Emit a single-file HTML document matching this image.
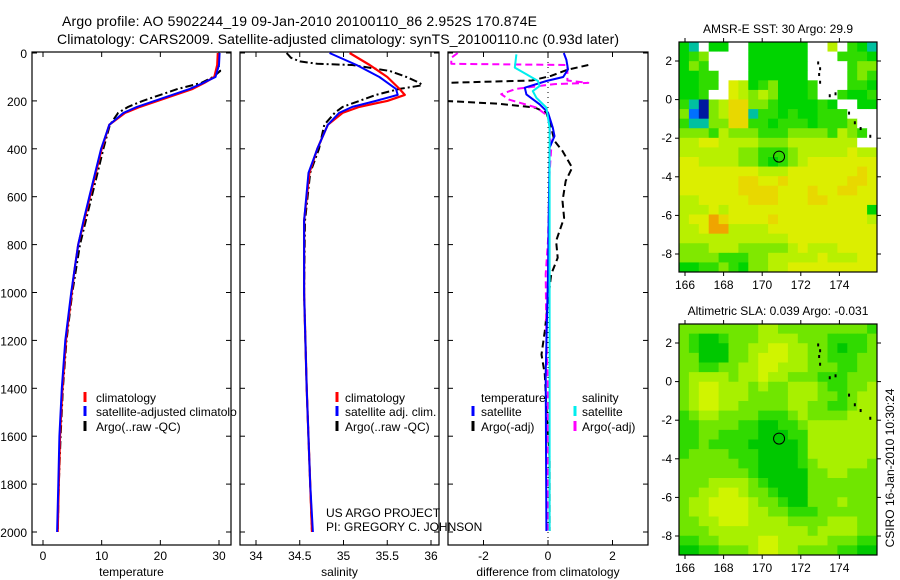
<!DOCTYPE html>
<html><head><meta charset="utf-8"><style>
html,body{margin:0;padding:0;background:#fff;}
svg{display:block;font-family:"Liberation Sans",sans-serif;}
</style></head><body>
<svg id="chart" width="900" height="580" viewBox="0 0 900 580"></svg>
<script>
// ---------- data ----------
const depthTicks=[0,200,400,600,800,1000,1200,1400,1600,1800,2000];
const tempTicks=[0,10,20,30];
const salTicks=[34,34.5,35,35.5,36];
const diffTicks=[-2,0,2];
const lonTicks=[166,168,170,172,174];
const latTicks=[2,0,-2,-4,-6,-8];

const climTdepth=[0,50,100,125,150,175,200,225,250,300,400,500,600,700,800,900,1000,1200,1400,1600,1800,2000];
const climT=[29.8,29.7,29.2,27.5,25.5,22.5,19.5,16.5,14,11.3,10,9,8,7,6,5.4,4.9,3.9,3.3,2.9,2.7,2.5];
const satT=[30.1,30.0,29.4,27.3,25,22,19,16,13.7,11.3,9.9,8.9,7.9,6.9,6,5.4,4.8,3.8,3.2,2.8,2.6,2.4];
const argoTdepth=[5,50,75,100,125,150,175,200,225,250,300,400,500,600,700,800,1000,1200,1400,1600,1800,2000];
const argoT=[30,29.9,30.2,29,27,23,20,17,14.5,12.8,11.4,10.3,9.3,8.3,7.3,6.3,5.0,4.0,3.4,3.0,2.7,2.5];

const salDepth=[0,50,100,150,175,200,225,250,300,400,500,700,1000,1400,1800,2000];
const climS=[35.07,35.3,35.5,35.64,35.7,35.5,35.18,34.99,34.82,34.7,34.61,34.55,34.55,34.58,34.62,34.64];
const satS=[34.84,35.15,35.41,35.6,35.62,35.37,35.1,34.95,34.82,34.7,34.6,34.55,34.55,34.58,34.62,34.65];
const argoSdepth=[0,20,35,45,50,75,100,125,135,150,175,200,225,250,300,400,500,700,1000,1400,1800,2000];
const argoS=[34.35,34.4,34.5,34.7,35.1,35.53,35.72,35.87,35.9,35.64,35.37,35.18,34.99,34.9,34.78,34.72,34.62,34.56,34.55,34.58,34.62,34.64];

const dTsatDepth=[0,29,68,100,117,145,173,214,249,312,347,395,924,1342,1996];
const dTsat=[0.49,0.57,0.62,0.47,-0.05,-0.72,-0.67,-0.26,0,0.15,0.2,0.05,0,-0.07,-0.05];
const dTargoDepth=[50,70,95,115,125,200,212,228,250,312,367,409,479,534,618,688,785,855,924,1036,1161,1259,1342,1481,1690,1871,1996];
const dTargo=[1.25,0.6,0.1,-0.5,-3.2,-3.2,-1.5,-0.4,-0.05,0.1,0.2,0.45,0.75,0.55,0.45,0.5,0.25,0.3,0.1,0,-0.1,-0.2,-0.1,-0.05,0.05,0.05,0.05];
const dSsatDepth=[6,61,89,117,138,159,187,228,312,1000,1996];
const dSsat=[-0.98,-1.03,-0.67,-0.31,-0.26,-0.47,-0.36,-0.05,0.05,0.05,0.05];
const dSargoDepth=[0,20,45,50,80,115,125,130,150,172,195,228,263,312,400,500,785,924,1200,1400,2000];
const dSargo=[-2.8,-3,-3,0.6,0.6,0.6,1.25,0.2,-1.0,-1.45,-1.2,-0.36,0,0.05,0.1,0.05,0,-0.07,-0.05,0,0];

const sstGrid=[
"19011001111110040219","12300001111110002221","13200001111110000233","11220001111110000232",
"11220541231112000221","11200543431112002112","29834663321111210011","3b834669221211222000",
"29933662212221222300","33324333222333324320","44554444333444444400","44444433222344444544",
"55444433212345555555","55555555444555555565","55555566556555555665","55555566665556556655",
"44555556665556655555","44454555555555555551","45576555565555555554","44577444455555555555",
"44444444444555555555","33344433333454445555","33332223344444544455","11223213344555555555"];
const slaGrid=[
"33333333443333333332","32112333444433322223","32111334455443321223","33111334555443322233",
"33223344554443332233","34444344544333222333","34554443433444322334","34554443333444332344",
"34554433333443322344","23443333222343333444","22333322112234444444","22332222111224444444",
"22322221111124444444","23333222111124444444","33333322111123444443","33333332111113344333",
"33344443211113333333","33445543321113333333","34455554332113334333","34455554433222333333",
"33445554444333344433","33344444444443444433","22334444554444433322","11223334554433332211"];
const floatLon=[170.874];
const floatLat=[-2.952];
const islandLon=[172.9,173.0,172.95,173.0,173.5,173.8,174.5,174.8,175.1,175.6];
const islandLat=[1.9,1.6,1.3,0.9,0.2,0.3,-0.7,-1.2,-1.5,-1.9];

// ---------- helpers ----------
const NS="http://www.w3.org/2000/svg";
const svg=document.getElementById('chart');
function mk(tag,attrs,parent){const e=document.createElementNS(NS,tag);for(const k in attrs)e.setAttribute(k,attrs[k]);(parent||svg).appendChild(e);return e;}
function txt(s,x,y,size,anchor,parent){const t=mk('text',{x:x,y:y,'font-size':size,'text-anchor':anchor||'middle',fill:'#000'},parent);t.textContent=s;return t;}

const Y0=53, YS=0.2395, FB=545, FT=52;
const yD=d=>Y0+d*YS;
const panels=[
 {x0:32,x1:231,fx:v=>43+v*5.867,ticks:tempTicks,label:'temperature',name:'temperature-panel',lbl:true},
 {x0:240,x1:439,fx:v=>256+(v-34)*87.5,ticks:salTicks,label:'salinity',name:'salinity-panel'},
 {x0:448,x1:648,fx:v=>548+v*32.25,ticks:diffTicks,label:'difference from climatology',name:'difference-panel'}
];

// titles
let t=txt('Argo profile: AO 5902244_19 09-Jan-2010 20100110_86 2.952S 170.874E',62,26,14,'start');
t.setAttribute('textLength','475');


t=txt('Climatology: CARS2009. Satellite-adjusted climatology: synTS_20100110.nc (0.93d later)',57,44,14,'start');
t.setAttribute('textLength','562');



panels.forEach((p,i)=>{
  const g=mk('g',{});
  
  
  const cp=mk('clipPath',{id:'clip'+i},g);
  mk('rect',{x:p.x0,y:FT,width:p.x1-p.x0,height:FB-FT},cp);
  p.g=g; p.clip='url(#clip'+i+')';
  const fr=mk('rect',{x:p.x0,y:FT,width:p.x1-p.x0,height:FB-FT,fill:'none',stroke:'#000','stroke-width':1.2},g);
  
  
  depthTicks.forEach(d=>{
    mk('line',{x1:p.x0,x2:p.x0+5,y1:yD(d),y2:yD(d),stroke:'#000'},g);
    mk('line',{x1:p.x1,x2:p.x1-5,y1:yD(d),y2:yD(d),stroke:'#000'},g);
    if(i===0){const l=txt(String(d),27,yD(d)+5,12,'end',g);
      
      }
  });
  p.ticks.forEach(v=>{
    const x=p.fx(v);
    mk('line',{x1:x,x2:x,y1:FB,y2:FB-5,stroke:'#000'},g);
    mk('line',{x1:x,x2:x,y1:FT,y2:FT+5,stroke:'#000'},g);
    const l=txt(String(v),x,560,12,'middle',g);
    
    
  });
  const xl=txt(p.label,(p.x0+p.x1)/2,576,12,'middle',g);
  
  
});

function line(p,ds,vs,color,dash,w,name){
  const pts=ds.map((d,k)=>p.fx(vs[k]).toFixed(1)+','+yD(d).toFixed(1)).join(' ');
  const a={points:pts,fill:'none',stroke:color,'stroke-width':w||2,'clip-path':p.clip,'stroke-linejoin':'round'};
  if(dash)a['stroke-dasharray']=dash;
  const e=mk('polyline',a,p.g);
  
  
}
const DD='8,3,2,3';
line(panels[0],argoTdepth,argoT,'#000',DD,2,'argo-temperature-line');
line(panels[0],climTdepth,climT,'#f00',null,2.2,'climatology-temperature-line');
line(panels[0],climTdepth,satT,'#00f',null,2,'satellite-temperature-line');
line(panels[1],argoSdepth,argoS,'#000',DD,2,'argo-salinity-line');
line(panels[1],salDepth,climS,'#f00',null,2.2,'climatology-salinity-line');
line(panels[1],salDepth,satS,'#00f',null,2,'satellite-salinity-line');
const zl=mk('line',{x1:548,x2:548,y1:FT,y2:FB,stroke:'#000','stroke-dasharray':'1,4'},panels[2].g);


line(panels[2],dTargoDepth,dTargo,'#000','7,4',2,'argo-temperature-diff-line');
line(panels[2],dSargoDepth,dSargo,'#f0f','7,4',2,'argo-salinity-diff-line');
line(panels[2],dTsatDepth,dTsat,'#00f',null,2,'satellite-temperature-diff-line');
line(panels[2],dSsatDepth,dSsat,'#0ee',null,2,'satellite-salinity-diff-line');

// legends
function legItem(x,y,color,label,g,tx){
  const m=mk('line',{x1:x,x2:x,y1:y-10,y2:y,stroke:color,'stroke-width':3},g);
  
  
  const l=txt(label,tx,y,12,'start',g);
  
  
}
const lg1=mk('g',{'clip-path':'url(#leg1)'});


const lc=mk('clipPath',{id:'leg1'});mk('rect',{x:0,y:0,width:237,height:580},lc);
legItem(85,402,'#f00','climatology',lg1,96);
legItem(85,416,'#00f','satellite-adjusted climatology',lg1,96);
legItem(85,431,'#000','Argo(..raw -QC)',lg1,96);
const lg2=mk('g',{});


legItem(337,402,'#f00','climatology',lg2,345);
legItem(337,416,'#00f','satellite adj. clim.',lg2,345);
legItem(337,431,'#000','Argo(..raw -QC)',lg2,345);
const lg3=mk('g',{});


t=txt('temperature',481,402,12,'start',lg3);


t=txt('salinity',582,402,12,'start',lg3);


legItem(473,416,'#00f','satellite',lg3,481);
legItem(473,431,'#000','Argo(-adj)',lg3,481);
legItem(575,416,'#0ee','satellite',lg3,582);
legItem(575,431,'#f0f','Argo(-adj)',lg3,582);
t=txt('US ARGO PROJECT',326,517,12,'start');


t=txt('PI: GREGORY C. JOHNSON',326,531,12,'start');



// maps
const palTop={'0':'#ffffff','1':'#00d400','2':'#30dc00','3':'#80e800','4':'#b8f000','5':'#dcee00','6':'#e8d800','7':'#f0a400','8':'#0018a0','9':'#00c0a0','b':'#0070ff'};
const palBot={'1':'#00c800','2':'#30da00','3':'#70e600','4':'#a8f000','5':'#d0f400'};
function map(fy,fh,grid,pal,title,name){
  const fx=679,fw=198;
  const g=mk('g',{});
  
  
  const lonX=v=>685+(v-166)*19.3;
  const latY=v=>fy+19+(2-v)*19.3;
  const rows=grid.length, cols=grid[0].length, cw=fw/cols, ch=fh/rows;
  grid.forEach((row,r)=>{for(let c=0;c<cols;c++){
    const cell=mk('rect',{x:(fx+c*cw).toFixed(2),y:(fy+r*ch).toFixed(2),width:(cw+0.4).toFixed(2),height:(ch+0.4).toFixed(2),fill:pal[row[c]]},g);
    
    
  }});
  islandLon.forEach((lo,k)=>{
    const d=mk('rect',{x:lonX(lo)-1,y:latY(islandLat[k])-1.5,width:2,height:3,fill:'#000'},g);
    
    
  });
  const fr=mk('rect',{x:fx,y:fy,width:fw,height:fh,fill:'none',stroke:'#000','stroke-width':1.2},g);
  
  
  lonTicks.forEach(v=>{const x=lonX(v);
    mk('line',{x1:x,x2:x,y1:fy+fh,y2:fy+fh+4,stroke:'#000'},g);
    mk('line',{x1:x,x2:x,y1:fy,y2:fy-4,stroke:'#000'},g);
    const l=txt(String(v),x,fy+fh+17,12,'middle',g);
    
    });
  latTicks.forEach(v=>{const y=latY(v);
    mk('line',{x1:fx,x2:fx-4,y1:y,y2:y,stroke:'#000'},g);
    mk('line',{x1:fx+fw,x2:fx+fw+4,y1:y,y2:y,stroke:'#000'},g);
    const l=txt(String(v),fx-7,y+4,12,'end',g);
    
    });
  const m=mk('circle',{cx:lonX(floatLon[0]),cy:latY(floatLat[0]),r:5.5,fill:'none',stroke:'#000','stroke-width':1},g);
  
  
  const tt=txt(title,fx+fw/2,fy-9,12,'middle',g);
  
  
}
map(42,230,sstGrid,palTop,'AMSR-E SST: 30 Argo: 29.9','sst-map');
map(324,231,slaGrid,palBot,'Altimetric SLA: 0.039 Argo: -0.031','sla-map');

t=txt('CSIRO 16-Jan-2010 10:30:24',0,0,12,'middle');
t.setAttribute('transform','translate(894,468) rotate(-90)');


</script>
</body></html>
